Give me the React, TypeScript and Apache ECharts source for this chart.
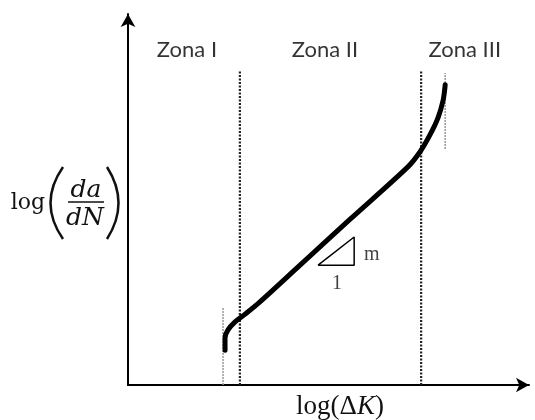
import React, { useEffect, useRef } from "react";
import * as echarts from "echarts";

// Schematic fatigue crack growth curve (arbitrary log units, 0..100)
const curveX = [24.2, 24.2, 24.9, 26.7, 29.2, 32.9, 42.9, 55.4, 69.8, 72.8, 75.3, 77.3, 78.6, 79.1];
const curveY = [9.4, 12.7, 14.8, 17.0, 19.1, 22.4, 32.3, 44.7, 58.8, 62.8, 67.4, 72.0, 76.8, 80.9];

const zoneBoundaries = [27.9, 73.1];
const zoneBoundaryTop = 84.9;
const thresholdLine = { x: 23.7, y0: 0, y1: 20.8 };
const toughnessLine = { x: 79.1, y0: 63.6, y1: 84.1 };

const zoneNames = ["Zona I", "Zona II", "Zona III"];
const zoneLabelX = [14.7, 49.1, 84.0];
const zoneLabelY = 90.8;

const slopeTriX = [47.4, 56.4, 56.4, 47.4];
const slopeTriY = [32.3, 39.9, 32.3, 32.3];
const slopeLabels = [
  { text: "m", x: 60.8, y: 35.6 },
  { text: "1", x: 52.1, y: 27.8 },
];

export default function App() {
  const ref = useRef<HTMLDivElement>(null);
  useEffect(() => {
    if (!ref.current) return;
    const chart = echarts.init(ref.current, undefined, { renderer: "svg" });
    const serif = "Liberation Serif";
    const dserif = "DejaVu Serif";
    const series: any[] = [];
    series.push({
      type: "line",
      data: curveX.map((x, i) => [x, curveY[i]]),
      smooth: 0.3,
      showSymbol: false,
      lineStyle: { color: "#000", width: 5, cap: "round" },
      z: 5,
    });
    zoneBoundaries.forEach((x) => {
      series.push({
        type: "line",
        data: [[x, 0], [x, zoneBoundaryTop]],
        showSymbol: false,
        lineStyle: { color: "#222", width: 2.2, type: [2, 1.5] },
      });
    });
    [thresholdLine, toughnessLine].forEach((l) => {
      series.push({
        type: "line",
        data: [[l.x, l.y0], [l.x, l.y1]],
        showSymbol: false,
        lineStyle: { color: "#999", width: 1.5, type: [2, 1] },
      });
    });
    series.push({
      type: "line",
      data: slopeTriX.map((x, i) => [x, slopeTriY[i]]),
      showSymbol: false,
      lineStyle: { color: "#000", width: 1.5 },
    });
    series.push({
      type: "scatter",
      symbolSize: 0,
      data: zoneNames.map((n, i) => ({ value: [zoneLabelX[i], zoneLabelY], name: n })),
      label: {
        show: true,
        position: "inside",
        formatter: (p: any) => p.name,
        fontFamily: "Lato",
        fontSize: 22,
        color: "#000",
      },
    });
    series.push({
      type: "scatter",
      symbolSize: 0,
      data: slopeLabels.map((s) => ({ value: [s.x, s.y], name: s.text })),
      label: {
        show: true,
        position: "inside",
        formatter: (p: any) => p.name,
        fontFamily: serif,
        fontSize: 20,
        color: "#111",
      },
    });

    chart.setOption({
      animation: false,
      grid: { left: 128, right: 6, top: 14, bottom: 35 },
      xAxis: {
        type: "value",
        min: 0,
        max: 100,
        axisLine: { lineStyle: { color: "#000", width: 2 }, symbol: ["none", "arrow"], symbolSize: [11, 13] },
        axisTick: { show: false },
        axisLabel: { show: false },
        splitLine: { show: false },
      },
      yAxis: {
        type: "value",
        min: 0,
        max: 100,
        axisLine: { lineStyle: { color: "#000", width: 2 }, symbol: ["none", "arrow"], symbolSize: [11, 13] },
        axisTick: { show: false },
        axisLabel: { show: false },
        splitLine: { show: false },
      },
      graphic: [
        { type: "text", x: 28, y: 201, style: { text: "log", font: `22px "${dserif}"`, fill: "#111", align: "center", verticalAlign: "middle" } },
        { type: "bezierCurve", shape: { x1: 63, y1: 167, x2: 63, y2: 239, cpx1: 38, cpy1: 203 }, style: { stroke: "#111", lineWidth: 2.5, fill: null } },
        { type: "bezierCurve", shape: { x1: 107, y1: 167, x2: 107, y2: 239, cpx1: 130, cpy1: 203 }, style: { stroke: "#111", lineWidth: 2.5, fill: null } },
        { type: "text", x: 86, y: 201, style: { text: "da", font: `italic 25px "${dserif}"`, fill: "#111", align: "center", verticalAlign: "bottom" } },
        { type: "line", shape: { x1: 68, y1: 202, x2: 104, y2: 202 }, style: { stroke: "#111", lineWidth: 1.5 } },
        { type: "text", x: 85, y: 204, style: { text: "dN", font: `italic 25px "${dserif}"`, fill: "#111", align: "center", verticalAlign: "top" } },
        {
          type: "text",
          x: 340,
          y: 405,
          style: {
            text: "{n|log(Δ}{i|K}{n|)}",
            align: "center",
            verticalAlign: "middle",
            rich: {
              n: { fontFamily: serif, fontSize: 27, fill: "#111" },
              i: { fontFamily: serif, fontSize: 27, fontStyle: "italic", fill: "#111" },
            },
          },
        },
      ],
      series,
    });
    return () => chart.dispose();
  }, []);
  return <div ref={ref} style={{ position: "fixed", left: 0, top: 0, width: 535, height: 420 }} />;
}
